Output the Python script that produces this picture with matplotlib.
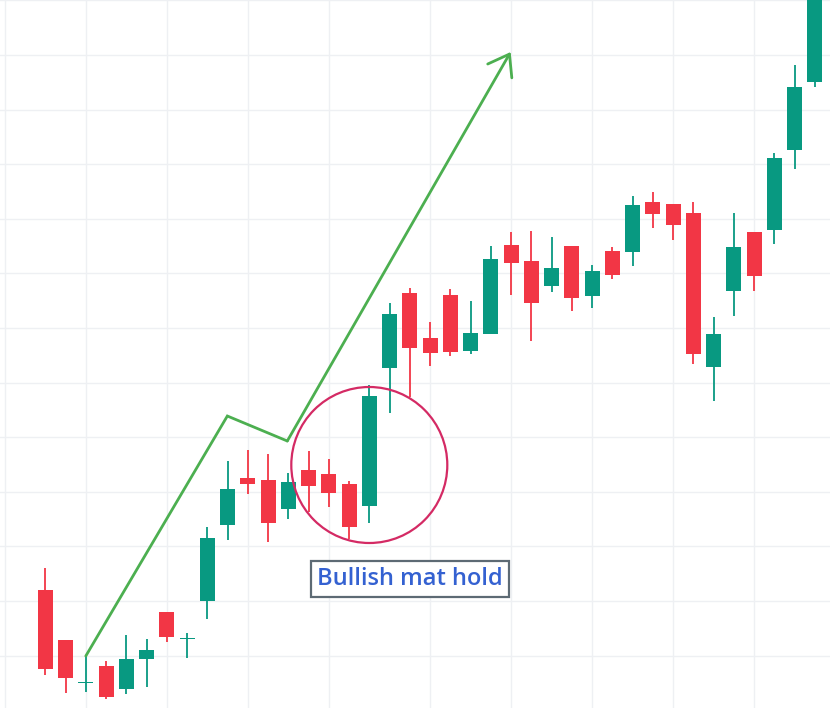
import matplotlib
matplotlib.use('Agg')
import matplotlib.pyplot as plt
import numpy as np
from matplotlib.patches import Ellipse

# candle data (price units)
opens = [118, 68, 25, 42, 19, 49, 96, 69, 107, 183, 230, 228, 199, 238, 234, 224, 202,
         340, 415, 370, 413, 357, 374, 463, 447, 422, 462, 412, 457, 456, 506, 504, 495,
         341, 417, 476, 478, 558, 626]
highs = [140, 68, 52, 47, 73, 69, 96, 75, 181, 247, 258, 254, 235, 257, 249, 227, 323,
         405, 420, 386, 419, 407, 462, 476, 477, 471, 462, 443, 461, 512, 516, 504, 506,
         391, 495, 476, 555, 643, 730]
lows = [33, 15, 16, 9, 14, 21, 66, 50, 89, 168, 214, 166, 189, 196, 201, 169, 185,
        295, 311, 342, 352, 354, 374, 413, 367, 416, 397, 400, 429, 442, 480, 468, 344,
        307, 392, 417, 464, 539, 621]
closes = [39, 30, 25, 11, 49, 58, 71, 70, 170, 219, 224, 185, 226, 222, 215, 181, 312,
          394, 360, 355, 356, 375, 449, 445, 405, 440, 410, 437, 433, 503, 494, 483, 354,
          374, 461, 432, 550, 621, 718]

# trend arrow drawn by hand on the chart
arrow_x = [2, 8.99, 11.95, 22.98]
arrow_y = [52, 292, 267, 656]

grid_x = [-2, 2, 6, 10, 14, 19, 23, 27, 31, 35]

GREEN = '#089981'
RED = '#F23645'

fig = plt.figure(figsize=(8.3, 7.08), dpi=100)
ax = fig.add_axes([0, 0, 1, 1])

o = np.array(opens, dtype=float)
h = np.array(highs, dtype=float)
l = np.array(lows, dtype=float)
c = np.array(closes, dtype=float)
idx = np.arange(len(o))
colors = np.where(c >= o, GREEN, RED)

ax.vlines(idx, l, h, colors=colors, lw=1.3, zorder=3)
body_bottom = np.minimum(o, c)
body_h = np.maximum(np.abs(c - o), 1.3)
ax.bar(idx, body_h, bottom=body_bottom, width=0.74, color=colors, zorder=4)

# arrow
lw_arrow = 2.0
ax.plot(arrow_x[:3], arrow_y[:3], color='#4CAF50', lw=lw_arrow, zorder=5,
        solid_capstyle='round', solid_joinstyle='miter')
ax.annotate('', xy=(arrow_x[3], arrow_y[3]), xytext=(arrow_x[2], arrow_y[2]),
            arrowprops=dict(arrowstyle='->,head_length=0.7,head_width=0.5',
                            color='#4CAF50', lw=lw_arrow, mutation_scale=20,
                            shrinkA=0, shrinkB=0), zorder=5)

# circle around the pattern
ax.add_patch(Ellipse((16, 243), width=156 / 20.25, height=156, fill=False,
                     ec='#D42A64', lw=1.6, zorder=6))

ax.text(18.0, 129.3, 'Bullish mat hold', ha='center', va='center', fontsize=17,
        color='#3461D1', fontfamily='Open Sans', fontweight='semibold', zorder=7,
        bbox=dict(boxstyle='square,pad=0.25', fc='white', ec='#5D6A74', lw=1.6))

ax.set_xlim(-45.3 / 20.25, (830 - 45.3) / 20.25)
ax.set_ylim(0, 708)
ax.set_xticks(grid_x)
ax.set_yticks(np.arange(52.5, 720, 54.6))
ax.grid(True, color='#EEF0F3', lw=1)
ax.set_axisbelow(True)
ax.tick_params(length=0, labelbottom=False, labelleft=False)
for s in ax.spines.values():
    s.set_visible(False)

fig.savefig('out.png', dpi=100, facecolor='white')
